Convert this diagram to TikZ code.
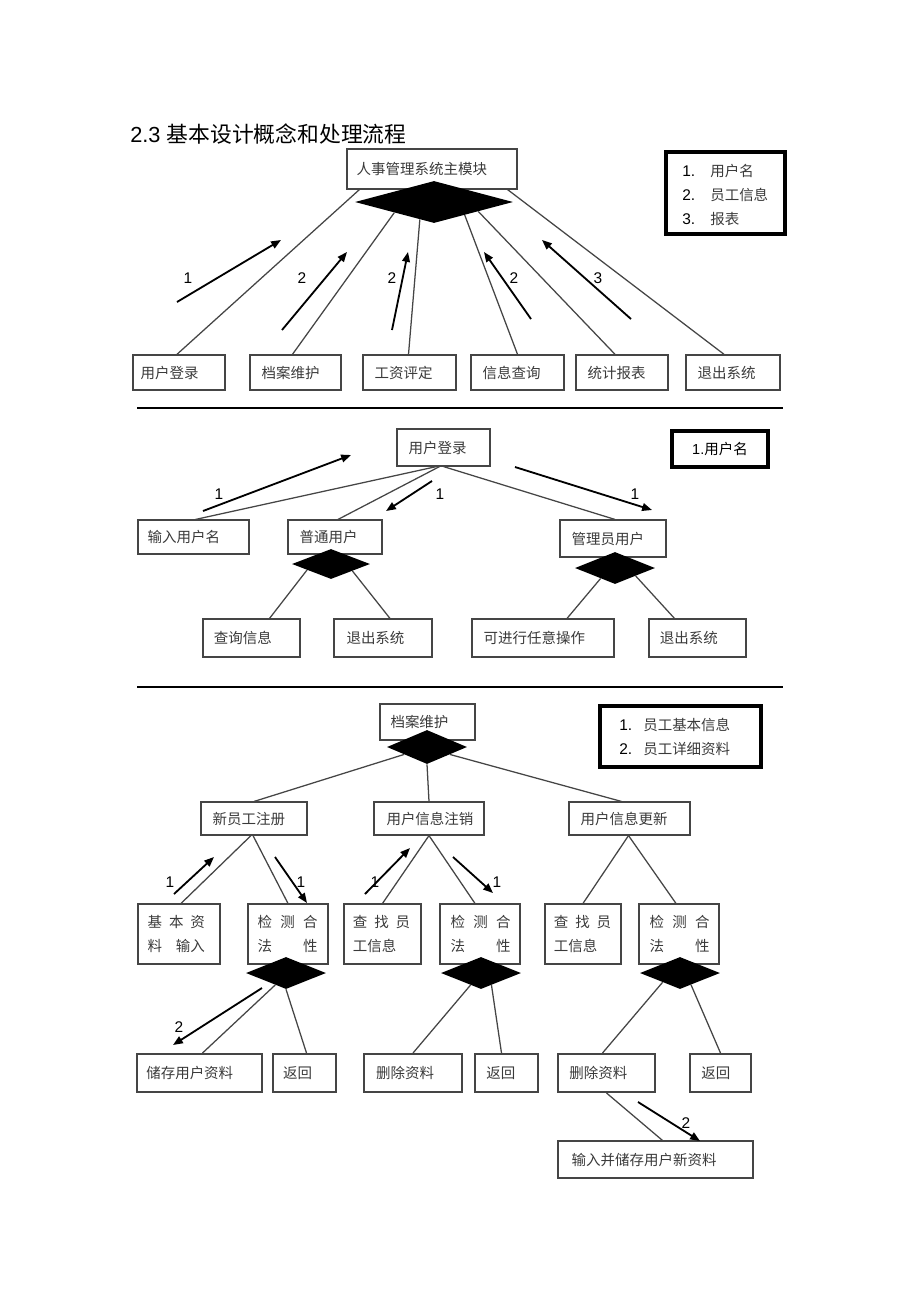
\documentclass[tikz,border=0pt]{standalone}
\usepackage{fontspec}
\setmainfont{Liberation Sans}
\newfontfamily\cjk{Noto Sans CJK SC}
\usetikzlibrary{positioning,fit,shapes.geometric,arrows.meta}
\definecolor{ink}{HTML}{3A3A3A}
\definecolor{edge}{HTML}{454545}
\tikzset{
  box/.style={draw=edge, line width=0.8pt, inner sep=0pt},
  boldbox/.style={box, line width=1.4pt},
  keybox/.style={draw=black, line width=2.4pt, inner sep=0pt},
  word/.style={font=\cjk\fontsize{10.3}{17}\selectfont, text=ink, inner sep=0pt},
  num/.style={font=\fontsize{11}{13}\selectfont, inner sep=0pt},
  gate/.style={diamond, fill=black, inner sep=0pt, minimum width=2cm, minimum height=0.8cm},
  link/.style={draw=edge, line width=0.9pt},
  flow/.style={draw=black, line width=1.3pt, -{Triangle[length=7pt,width=5.5pt]}},
}
\begin{document}
\begin{tikzpicture}[x=0.025cm, y=-0.025cm]
\useasboundingbox (0,0) rectangle (920,1303);

\node [num, font=\fontsize{15.5}{18}\selectfont, anchor=base west] (title) at (130,142) {2.3 {\cjk 基本设计概念和处理流程}};

% main module
\node [box, fit={(347,149) (517,189)}] (main) {};
\node [word, right=0.25cm of main.west] (maint) {人事管理系统主模块};
\node [gate, minimum width=3.95cm, minimum height=1.05cm] (mgate) at (434,202) {};

\node [keybox, fit={(666,152) (785,234)}] (key1) {};
\node [num, anchor=west] (key1a) at (682,171) {1.};
\node [num, anchor=west] (key1b) at (682,195) {2.};
\node [num, anchor=west] (key1c) at (682,219) {3.};
\node [word, anchor=west] (key1at) at (710,171) {用户名};
\node [word, anchor=west] (key1bt) at (710,195) {员工信息};
\node [word, anchor=west] (key1ct) at (710,219) {报表};

\node [box, line width=1pt, fit={(133,355) (225,390)}] (login) {};
\node [word, right=0.2cm of login.west] (logint) {用户登录};
\node [box, line width=1pt, fit={(250,355) (341,390)}] (archive) {};
\node [word, right=0.3cm of archive.west] (archivet) {档案维护};
\node [box, line width=1pt, fit={(363,355) (456,390)}] (salary) {};
\node [word, right=0.3cm of salary.west] (salaryt) {工资评定};
\node [box, line width=1pt, fit={(471,355) (564,390)}] (query) {};
\node [word, right=0.3cm of query.west] (queryt) {信息查询};
\node [box, line width=1pt, fit={(576,355) (668,390)}] (report) {};
\node [word, right=0.3cm of report.west] (reportt) {统计报表};
\node [box, line width=1pt, fit={(686,355) (780,390)}] (quit) {};
\node [word, right=0.3cm of quit.west] (quitt) {退出系统};

\draw [link] ([shift={(13,0)}]main.south west) -- ([shift={(-2,0)}]login.north);
\draw [link] (mgate.195) -- ([shift={(-3,0)}]archive.north);
\draw [link] (mgate.231) -- ([shift={(-1,0)}]salary.north);
\draw [link] (mgate.337) -- (query.north);
\draw [link] (mgate.348) -- ([shift={(-7,0)}]report.north);
\draw [link] ([shift={(-10,0)}]main.south east) -- ([shift={(-9,0)}]quit.north);

\coordinate (a1s) at (177,302); \coordinate (a1e) at (281,240);
\coordinate (a2s) at (282,330); \coordinate (a2e) at (347,252);
\coordinate (a3s) at (392,330); \coordinate (a3e) at (408,252);
\coordinate (a4s) at (531,319); \coordinate (a4e) at (484,252);
\coordinate (a5s) at (631,319); \coordinate (a5e) at (542,240);
\draw [flow] (a1s) -- (a1e);
\draw [flow] (a2s) -- (a2e);
\draw [flow] (a3s) -- (a3e);
\draw [flow] (a4s) -- (a4e);
\draw [flow] (a5s) -- (a5e);
\node [num] (n1) at (188,278) {1};
\node [num] (n2) at (302,278) {2};
\node [num] (n3) at (392,278) {2};
\node [num] (n4) at (514,278) {2};
\node [num] (n5) at (598,278) {3};

\draw [line width=2pt] (137,408) -- (783,408);

% user login
\node [box, fit={(397,429) (490,466)}] (login2) {};
\node [word, right=0.3cm of login2.west] (login2t) {用户登录};
\node [keybox, fit={(672,431) (768,467)}] (key2) {};
\node [word, text=black] (key2t) at (key2) {{\rmfamily 1.}用户名};

\node [box, fit={(138,520) (249,554)}] (uname) {};
\node [word, right=0.25cm of uname.west] (unamet) {输入用户名};
\node [box, fit={(288,520) (382,554)}] (normal) {};
\node [word, right=0.3cm of normal.west] (normalt) {普通用户};
\node [box, fit={(560,520) (666,557)}] (admin) {};
\node [word, right=0.3cm of admin.west] (admint) {管理员用户};
\node [gate, minimum width=1.95cm, minimum height=0.75cm] (ngate) at (331,564) {};
\node [gate, minimum width=2cm, minimum height=0.8cm] (agate) at (615,568) {};

\node [box, fit={(203,619) (300,657)}] (lookup) {};
\node [word, right=0.28cm of lookup.west] (lookupt) {查询信息};
\node [box, fit={(334,619) (432,657)}] (quit2) {};
\node [word, right=0.32cm of quit2.west] (quit2t) {退出系统};
\node [box, fit={(472,619) (614,657)}] (anyop) {};
\node [word, right=0.3cm of anyop.west] (anyopt) {可进行任意操作};
\node [box, fit={(649,619) (746,657)}] (quit3) {};
\node [word, right=0.28cm of quit3.west] (quit3t) {退出系统};

\draw [link] ([shift={(-7,0)}]login2.south) -- ([shift={(2,0)}]uname.north);
\draw [link] ([shift={(-4,0)}]login2.south) -- ([shift={(3,0)}]normal.north);
\draw [link] (login2.south) -- ([shift={(2,0)}]admin.north);
\draw [link] (ngate.194) -- ([shift={(18,0)}]lookup.north);
\draw [link] (ngate.342) -- ([shift={(7,0)}]quit2.north);
\draw [link] (agate.216) -- ([shift={(24,0)}]anyop.north);
\draw [link] (agate.339) -- ([shift={(-23,0)}]quit3.north);

\coordinate (b1s) at (203,511); \coordinate (b1e) at (351,455);
\coordinate (b2s) at (432,481); \coordinate (b2e) at (386,511);
\coordinate (b3s) at (515,467); \coordinate (b3e) at (652,510);
\draw [flow] (b1s) -- (b1e);
\draw [flow] (b2s) -- (b2e);
\draw [flow] (b3s) -- (b3e);
\node [num] (m1) at (219,494) {1};
\node [num] (m2) at (440,494) {1};
\node [num] (m3) at (635,494) {1};

\draw [line width=2pt] (137,687) -- (783,687);

% archive maintenance
\node [box, fit={(380,704) (475,740)}] (archive2) {};
\node [word, right=0.27cm of archive2.west] (archive2t) {档案维护};
\node [gate, minimum width=2cm, minimum height=0.85cm] (fgate) at (427,747) {};
\node [keybox, fit={(600,706) (761,767)}] (key3) {};
\node [num, anchor=west] (key3a) at (619,725) {1.};
\node [num, anchor=west] (key3b) at (619,749) {2.};
\node [word, anchor=west] (key3at) at (643,725) {员工基本信息};
\node [word, anchor=west] (key3bt) at (643,749) {员工详细资料};

\node [box, fit={(201,802) (307,835)}] (reg) {};
\node [word, right=0.3cm of reg.west] (regt) {新员工注册};
\node [box, fit={(374,802) (484,835)}] (cancel) {};
\node [word, right=0.32cm of cancel.west] (cancelt) {用户信息注销};
\node [box, fit={(569,802) (690,835)}] (update) {};
\node [word, right=0.3cm of update.west] (updatet) {用户信息更新};

\draw [link] (fgate.198) -- (reg.north);
\draw [link] (fgate.south) -- (cancel.north);
\draw [link] (fgate.342) -- ([shift={(-8,0)}]update.north);

\node [box, fit={(138,904) (220,964)}] (basic) {};
\node [word, right=0.25cm of basic.west, align=left] (basict) {\makebox[1.43cm][s]{基\hfill 本\hfill 资}\\\makebox[1.43cm][s]{料\hfill 输入}};
\node [box, fit={(248,904) (328,964)}] (check1) {};
\node [word, right=0.25cm of check1.west, align=left] (check1t) {\makebox[1.5cm][s]{检\hfill 测\hfill 合}\\\makebox[1.5cm][s]{法\hfill 性}};
\node [box, fit={(344,904) (421,964)}] (find1) {};
\node [word, right=0.23cm of find1.west, align=left] (find1t) {\makebox[1.43cm][s]{查\hfill 找\hfill 员}\\工信息};
\node [box, fit={(440,904) (520,964)}] (check2) {};
\node [word, right=0.27cm of check2.west, align=left] (check2t) {\makebox[1.5cm][s]{检\hfill 测\hfill 合}\\\makebox[1.5cm][s]{法\hfill 性}};
\node [box, fit={(545,904) (621,964)}] (find2) {};
\node [word, right=0.23cm of find2.west, align=left] (find2t) {\makebox[1.43cm][s]{查\hfill 找\hfill 员}\\工信息};
\node [box, fit={(639,904) (719,964)}] (check3) {};
\node [word, right=0.27cm of check3.west, align=left] (check3t) {\makebox[1.5cm][s]{检\hfill 测\hfill 合}\\\makebox[1.5cm][s]{法\hfill 性}};

\draw [link] ([shift={(-3,0)}]reg.south) -- ([shift={(2,0)}]basic.north);
\draw [link] ([shift={(-1,0)}]reg.south) -- (check1.north);
\draw [link] (cancel.south) -- (find1.north);
\draw [link] (cancel.south) -- ([shift={(-5,0)}]check2.north);
\draw [link] ([shift={(-1,0)}]update.south) -- (find2.north);
\draw [link] ([shift={(-1,0)}]update.south) -- ([shift={(-3,0)}]check3.north);

\coordinate (c1s) at (174,894); \coordinate (c1e) at (214,857);
\coordinate (c2s) at (275,857); \coordinate (c2e) at (307,903);
\coordinate (c3s) at (365,894); \coordinate (c3e) at (410,848);
\coordinate (c4s) at (453,857); \coordinate (c4e) at (493,893);
\draw [flow] (c1s) -- (c1e);
\draw [flow] (c2s) -- (c2e);
\draw [flow] (c3s) -- (c3e);
\draw [flow] (c4s) -- (c4e);
\node [num] (k1) at (170,882) {1};
\node [num] (k2) at (301,882) {1};
\node [num] (k3) at (375,882) {1};
\node [num] (k4) at (497,882) {1};

\node [gate] (cgate1) at (286,973) {};
\node [gate] (cgate2) at (481,973) {};
\node [gate] (cgate3) at (680,973) {};

\node [boldbox, fit={(137,1054) (262,1092)}] (store) {};
\node [word, right=0.25cm of store.west] (storet) {储存用户资料};
\node [boldbox, fit={(273,1054) (336,1092)}] (back1) {};
\node [word, right=0.27cm of back1.west] (back1t) {返回};
\node [boldbox, fit={(364,1054) (462,1092)}] (del1) {};
\node [word, right=0.32cm of del1.west] (del1t) {删除资料};
\node [boldbox, fit={(475,1054) (538,1092)}] (back2) {};
\node [word, right=0.3cm of back2.west] (back2t) {返回};
\node [boldbox, fit={(558,1054) (655,1092)}] (del2) {};
\node [word, right=0.3cm of del2.west] (del2t) {删除资料};
\node [boldbox, fit={(690,1054) (751,1092)}] (back3) {};
\node [word, right=0.3cm of back3.west] (back3t) {返回};

\draw [link] (cgate1.228) -- ([shift={(3,0)}]store.north);
\draw [link] (cgate1.south) -- ([shift={(2,0)}]back1.north);
\draw [link] (cgate2.229) -- (del1.north);
\draw [link] (cgate2.311) -- ([shift={(-5,0)}]back2.north);
\draw [link] (cgate3.208) -- ([shift={(-4,0)}]del2.north);
\draw [link] (cgate3.313) -- (back3.north);

\coordinate (d1s) at (262,988); \coordinate (d1e) at (173,1045);
\draw [flow] (d1s) -- (d1e);
\node [num] (j1) at (179,1027) {2};

\node [box, fit={(558,1141) (753,1178)}] (newdata) {};
\node [word, right=0.35cm of newdata.west] (newdatat) {输入并储存用户新资料};
\draw [link] (del2.south) -- ([shift={(7,0)}]newdata.north);
\coordinate (d2s) at (638,1102); \coordinate (d2e) at (700,1141);
\draw [flow] (d2s) -- (d2e);
\node [num] (j2) at (686,1123) {2};
\end{tikzpicture}
\end{document}
